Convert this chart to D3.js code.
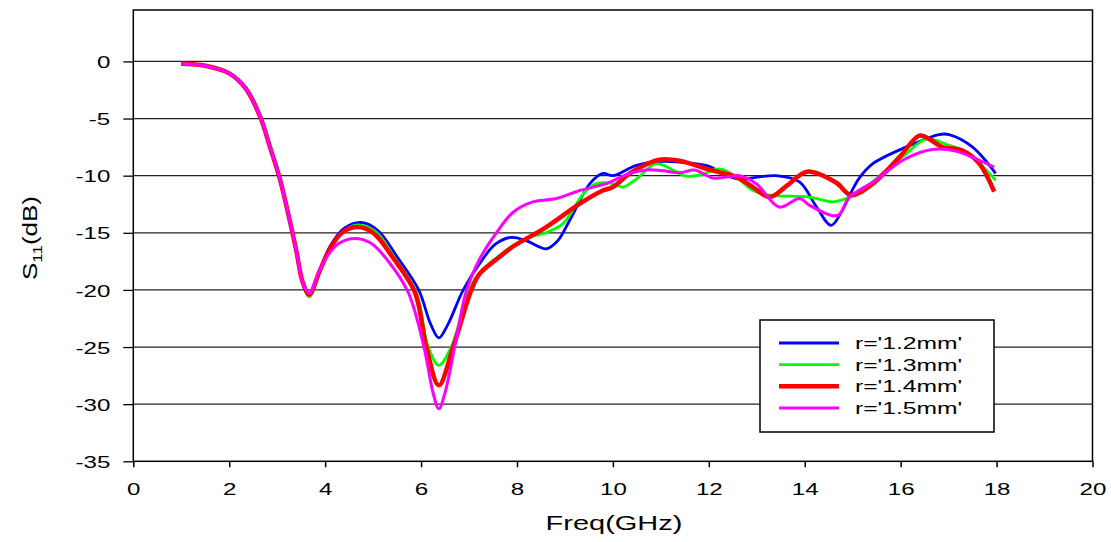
<!DOCTYPE html>
<html><head><meta charset="utf-8">
<script src="https://cdn.jsdelivr.net/npm/d3@7"></script>
<style>body{margin:0;background:#fff}svg{display:block}text{font-family:"Liberation Sans",Arial,sans-serif;fill:#000}</style>
</head><body><svg id="c" width="1111" height="542"></svg>
<script>
const xTicks = [0,2,4,6,8,10,12,14,16,18,20];
const yTicks = [-35,-30,-25,-20,-15,-10,-5,0];
const seriesNames = ["r='1.2mm'","r='1.3mm'","r='1.4mm'","r='1.5mm'"];
const seriesColors = ["#0000ff","#00ff00","#ff0000","#ff00ff"];
const seriesWidths = [2.8,2.8,4.5,3];

const sharedStart = [[1.0,-0.2],[1.5,-0.38],[2.0,-1.05],[2.35,-2.4],[2.65,-4.9],[2.85,-7.5],[3.05,-10.2],[3.25,-13.7],[3.4,-16.6],[3.53,-19.3]];

const r12 = [[3.67,-20.4],[3.88,-18.4],[4.1,-16.2],[4.4,-14.6],[4.75,-14.1],[5.1,-14.8],[5.5,-17.1],[5.95,-20.0],[6.2,-23.0],[6.37,-24.2],[6.55,-23.1],[6.88,-20.0],[7.22,-17.7],[7.55,-16.0],[7.88,-15.4],[8.2,-15.7],[8.61,-16.4],[8.85,-15.7],[9.1,-13.9],[9.52,-10.7],[9.79,-9.8],[10.0,-10.0],[10.49,-9.1],[11.04,-8.75],[11.6,-8.9],[12.02,-9.2],[12.36,-10.0],[12.71,-10.3],[13.05,-10.1],[13.4,-10.0],[13.89,-10.55],[14.24,-12.7],[14.55,-14.35],[14.75,-13.3],[14.95,-11.6],[15.14,-10.2],[15.42,-8.95],[16.11,-7.5],[16.8,-6.4],[17.01,-6.4],[17.5,-7.5],[17.98,-9.8]];

const r13 = [[3.67,-20.6],[3.88,-18.5],[4.1,-16.4],[4.4,-14.8],[4.7,-14.3],[5.05,-14.9],[5.45,-17.2],[5.9,-20.2],[6.15,-25.0],[6.37,-26.6],[6.63,-25.0],[7.0,-20.0],[7.22,-18.5],[7.6,-17.1],[7.92,-16.1],[8.26,-15.4],[8.6,-15.0],[8.96,-14.2],[9.15,-13.1],[9.38,-11.6],[9.65,-10.7],[10.0,-10.7],[10.21,-11.0],[10.49,-10.3],[10.9,-8.95],[11.25,-9.5],[11.53,-10.05],[11.85,-9.9],[12.22,-9.4],[12.57,-10.1],[12.92,-11.3],[13.27,-11.7],[14.1,-11.87],[14.58,-12.3],[14.8,-12.1],[15.14,-11.5],[15.62,-9.8],[16.11,-8.1],[16.53,-6.8],[17.01,-7.35],[17.36,-7.9],[17.98,-10.4]];

const r14 = [[3.67,-20.4],[3.88,-18.4],[4.1,-16.4],[4.35,-15.0],[4.65,-14.5],[5.0,-15.0],[5.4,-17.1],[5.87,-20.2],[6.11,-25.0],[6.37,-28.35],[6.67,-25.0],[7.05,-20.0],[7.22,-18.6],[7.64,-17.1],[7.92,-16.2],[8.61,-14.5],[9.31,-12.45],[9.79,-11.3],[10.0,-11.0],[10.35,-9.8],[10.7,-9.0],[10.97,-8.6],[11.39,-8.7],[12.02,-9.5],[12.57,-10.1],[12.92,-11.0],[13.27,-11.87],[13.65,-10.8],[14.05,-9.65],[14.65,-10.6],[14.97,-11.7],[15.42,-10.7],[15.97,-8.4],[16.39,-6.5],[16.6,-6.8],[16.87,-7.5],[17.29,-7.8],[17.64,-8.95],[17.95,-11.4]];

const r15 = [[3.67,-20.3],[3.85,-18.6],[4.05,-17.0],[4.3,-15.9],[4.62,-15.5],[4.95,-15.9],[5.3,-17.4],[5.73,-20.2],[6.06,-25.0],[6.25,-29.0],[6.37,-30.4],[6.5,-29.0],[6.7,-25.0],[6.95,-20.0],[7.22,-17.3],[7.57,-15.0],[7.92,-13.2],[8.33,-12.3],[8.82,-12.0],[9.31,-11.3],[9.86,-10.7],[10.35,-9.8],[10.7,-9.5],[11.0,-9.55],[11.39,-9.75],[11.7,-9.5],[12.08,-10.2],[12.4,-10.1],[12.64,-10.0],[12.99,-10.7],[13.47,-12.75],[13.89,-12.0],[14.1,-12.6],[14.58,-13.5],[14.72,-13.4],[14.93,-11.9],[15.42,-10.56],[16.11,-8.5],[16.66,-7.7],[17.15,-7.85],[17.64,-8.66],[17.95,-9.25]];

const seriesData = [r12, r13, r14, r15].map(s => sharedStart.concat(s));

const svg = d3.select("#c");
const L = 133.3, R = 1092.5, T = 10, B = 461.3;
const x = d3.scaleLinear().domain([0,20]).range([L,R]);
const y = d3.scaleLinear().domain([-35,4.5]).range([B,T]);
const SX = 1.42;
const fmt = d => String(d);

// grid lines
svg.append("g").selectAll("line").data(yTicks.filter(d=>d>-35)).join("line")
  .attr("x1",L).attr("x2",R).attr("y1",d=>y(d)).attr("y2",d=>y(d))
  .attr("stroke","#222").attr("stroke-width",1.3);

// frame
svg.append("rect").attr("x",L).attr("y",T).attr("width",R-L).attr("height",B-T)
  .attr("fill","none").attr("stroke","#000").attr("stroke-width",1.5);

// y axis
const ya = svg.append("g").attr("transform",`translate(${L},0)`)
  .call(d3.axisLeft(y).tickValues(yTicks).tickSize(10).tickPadding(0).tickFormat(fmt));
ya.select(".domain").remove();
ya.selectAll("line").attr("stroke","#000").attr("stroke-width",1.3);
ya.selectAll("text").attr("x",null).attr("dy",null)
  .attr("transform",`translate(-23,0) scale(${SX},1)`)
  .attr("dominant-baseline","central").style("font-size","17px").attr("fill","#000");

// x axis
const xa = svg.append("g").attr("transform",`translate(0,${B})`)
  .call(d3.axisBottom(x).tickValues(xTicks).tickSize(6).tickFormat(fmt));
xa.select(".domain").remove();
xa.selectAll("line").attr("stroke","#000").attr("stroke-width",1.5);
xa.selectAll("text").attr("y",null).attr("dy",null)
  .attr("transform",`translate(0,34) scale(${SX},1)`)
  .style("font-size","17px").attr("fill","#000");

// series
const line = d3.line().x(d=>x(d[0])).y(d=>y(d[1])).curve(d3.curveCatmullRom.alpha(0.5));
svg.append("g").selectAll("path").data(seriesData).join("path")
  .attr("d",line).attr("fill","none")
  .attr("stroke",(d,i)=>seriesColors[i]).attr("stroke-width",(d,i)=>seriesWidths[i])
  .attr("stroke-linejoin","round").attr("stroke-linecap","butt");

// axis titles
svg.append("text").attr("transform",`translate(614,530) scale(1.45,1)`)
  .attr("text-anchor","middle").style("font-size","20px").text("Freq(GHz)");
const yt = svg.append("text").attr("transform",`translate(37,238) rotate(-90) scale(1.3,1)`)
  .attr("text-anchor","middle").style("font-size","20px");
yt.append("tspan").text("S");
yt.append("tspan").attr("dy",5).style("font-size","13px").text("11");
yt.append("tspan").attr("dy",-5).text("(dB)");

// legend
const lg = svg.append("g");
lg.append("rect").attr("x",760).attr("y",320).attr("width",234).attr("height",112)
  .attr("fill","#fff").attr("stroke","#000").attr("stroke-width",1.5);
const ly = d3.scalePoint().domain(d3.range(4)).range([343,408]);
seriesNames.forEach((n,i)=>{
  lg.append("line").attr("x1",779).attr("x2",839).attr("y1",ly(i)).attr("y2",ly(i))
    .attr("stroke",seriesColors[i]).attr("stroke-width",seriesWidths[i]);
  lg.append("text").attr("transform",`translate(855,${ly(i)}) scale(1.45,1)`)
    .attr("dominant-baseline","central").style("font-size","17px").text(n);
});
</script></body></html>
